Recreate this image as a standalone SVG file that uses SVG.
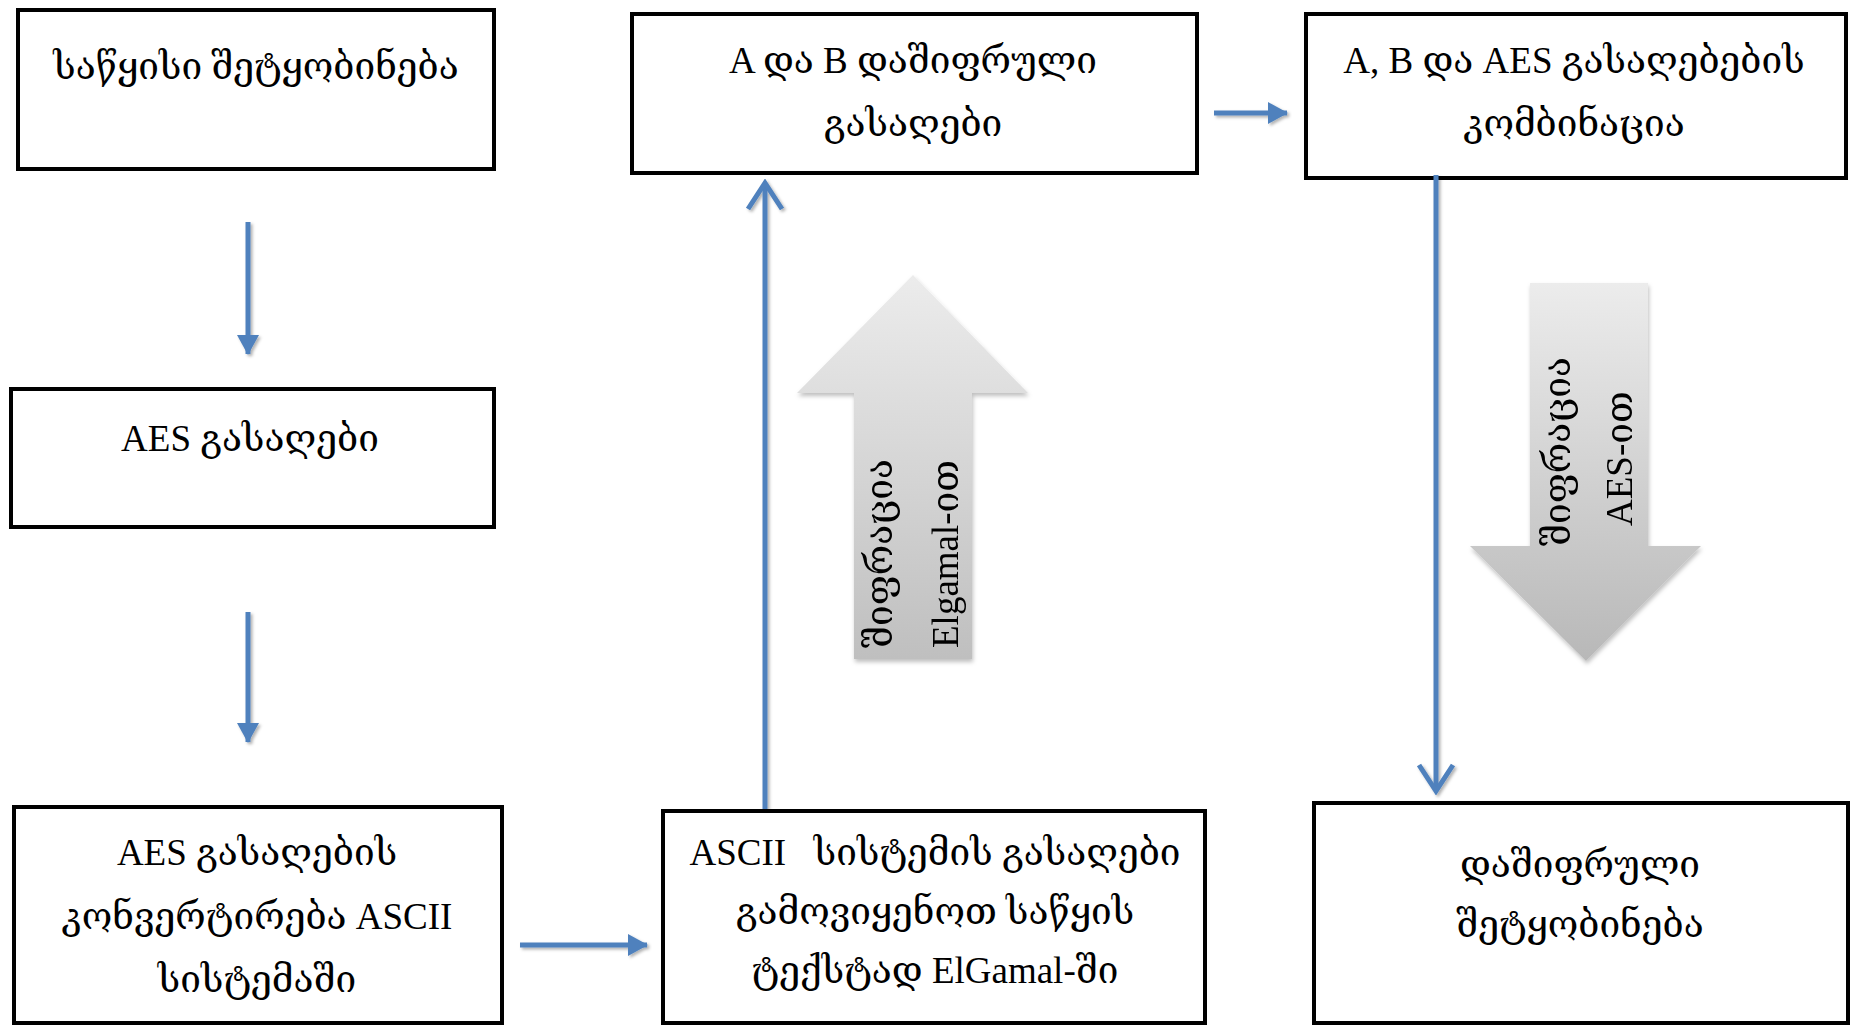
<svg xmlns="http://www.w3.org/2000/svg" width="1852" height="1028" viewBox="0 0 1852 1028">
  <style>
    .box rect { fill: #ffffff; stroke: #000000; stroke-width: 4; }
    .lbl { font-family: "Liberation Serif", "DejaVu Serif", serif; font-size: 37px; fill: #000000; text-anchor: middle; white-space: pre; }
    .rot { font-family: "Liberation Serif", "DejaVu Serif", serif; font-size: 37px; fill: #000000; white-space: pre; }
    .link { stroke: #4f81bd; stroke-width: 5; fill: none; filter: url(#lineShadow); }
  </style>
  <defs>
    <filter id="lineShadow" filterUnits="userSpaceOnUse" x="0" y="0" width="1852" height="1028">
      <feDropShadow dx="2" dy="2" stdDeviation="1.5" flood-color="#000000" flood-opacity="0.3"/>
    </filter>
    <filter id="blockShadow" filterUnits="userSpaceOnUse" x="0" y="0" width="1852" height="1028">
      <feDropShadow dx="1" dy="3" stdDeviation="2" flood-color="#000000" flood-opacity="0.25"/>
    </filter>
    <linearGradient id="grayUp" x1="0" y1="0" x2="0" y2="1">
      <stop offset="0" stop-color="#ececec"/>
      <stop offset="1" stop-color="#bfbfbf"/>
    </linearGradient>
    <linearGradient id="grayDown" x1="0" y1="0" x2="0" y2="1">
      <stop offset="0" stop-color="#ececec"/>
      <stop offset="1" stop-color="#b8b8b8"/>
    </linearGradient>
    <marker id="headFill" markerUnits="userSpaceOnUse" viewBox="0 0 20 22" refX="19" refY="11" markerWidth="20" markerHeight="22" orient="auto">
      <path d="M0,0 L20,11 L0,22 z" fill="#4f81bd"/>
    </marker>
    <marker id="headOpen" markerUnits="userSpaceOnUse" viewBox="0 0 34 40" refX="30" refY="20" markerWidth="34" markerHeight="40" orient="auto">
      <path d="M4,3 L30,20 L4,37" fill="none" stroke="#4f81bd" stroke-width="5" stroke-linejoin="miter"/>
    </marker>
  </defs>

  <rect width="1852" height="1028" fill="#ffffff"/>

  <!-- wide gray block arrows -->
  <g id="block-elgamal" filter="url(#blockShadow)">
    <polygon points="913,275 1028,393 972,393 972,659 854,659 854,393 797,393" fill="url(#grayUp)"/>
    <text class="rot" transform="translate(892,648) rotate(-90)">შიფრაცია</text>
    <text class="rot" transform="translate(958,648) rotate(-90)">Elgamal-ით</text>
  </g>
  <g id="block-aes" filter="url(#blockShadow)">
    <polygon points="1530,283 1648,283 1648,546 1701,546 1586,661 1470,546 1530,546" fill="url(#grayDown)"/>
    <text class="rot" transform="translate(1570,546) rotate(-90)">შიფრაცია</text>
    <text class="rot" transform="translate(1632,526) rotate(-90)">AES-ით</text>
  </g>

  <!-- process boxes -->
  <g id="n-message" class="box">
    <rect x="18" y="10" width="476" height="159"/>
    <text class="lbl" x="256" y="79">საწყისი შეტყობინება</text>
  </g>
  <g id="n-aes-key" class="box">
    <rect x="11" y="389" width="483" height="138"/>
    <text class="lbl" x="250" y="451">AES გასაღები</text>
  </g>
  <g id="n-ascii-convert" class="box">
    <rect x="14" y="807" width="488" height="216"/>
    <text class="lbl" x="257" y="865">AES გასაღების</text>
    <text class="lbl" x="257" y="929">კონვერტირება ASCII</text>
    <text class="lbl" x="257" y="992">სისტემაში</text>
  </g>
  <g id="n-ascii-elgamal" class="box">
    <rect x="663" y="811" width="542" height="212"/>
    <text class="lbl" x="935" y="865">ASCII   სისტემის გასაღები</text>
    <text class="lbl" x="935" y="924">გამოვიყენოთ საწყის</text>
    <text class="lbl" x="935" y="983">ტექსტად ElGamal-ში</text>
  </g>
  <g id="n-ab-keys" class="box">
    <rect x="632" y="14" width="565" height="159"/>
    <text class="lbl" x="913" y="73">A და B დაშიფრული</text>
    <text class="lbl" x="913" y="136">გასაღები</text>
  </g>
  <g id="n-combination" class="box">
    <rect x="1306" y="14" width="540" height="164"/>
    <text class="lbl" x="1574" y="73">A, B და AES გასაღებების</text>
    <text class="lbl" x="1574" y="136">კომბინაცია</text>
  </g>
  <g id="n-encrypted" class="box">
    <rect x="1314" y="803" width="534" height="220"/>
    <text class="lbl" x="1580" y="877">დაშიფრული</text>
    <text class="lbl" x="1580" y="937">შეტყობინება</text>
  </g>

  <!-- connectors -->
  <g id="connectors">
    <line class="link" x1="248" y1="222" x2="248" y2="354" marker-end="url(#headFill)"/>
    <line class="link" x1="248" y1="612" x2="248" y2="742" marker-end="url(#headFill)"/>
    <line class="link" x1="520" y1="945" x2="647" y2="945" marker-end="url(#headFill)"/>
    <line class="link" x1="765" y1="809" x2="765" y2="183" marker-end="url(#headOpen)"/>
    <line class="link" x1="1214" y1="113" x2="1287" y2="113" marker-end="url(#headFill)"/>
    <line class="link" x1="1436" y1="175" x2="1436" y2="791" marker-end="url(#headOpen)"/>
  </g>
</svg>
